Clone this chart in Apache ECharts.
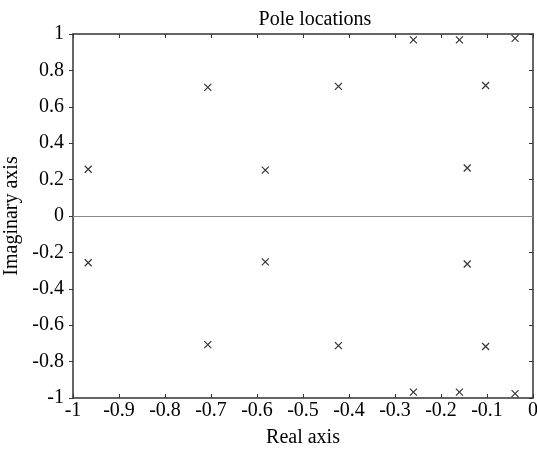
<!DOCTYPE html>
<html>
<head>
<meta charset="utf-8">
<script src="https://cdn.jsdelivr.net/npm/echarts@6/dist/echarts.min.js"></script>
<style>
  html, body { margin: 0; padding: 0; background: #fff; }
  #chart { width: 537px; height: 450px; }
</style>
</head>
<body>
<div id="chart"></div>
<script>
// pole positions (real, imag)
const realParts = [-0.967, -0.707, -0.582, -0.423, -0.26, -0.16, -0.039, -0.103, -0.143];
const imagParts = [0.257, 0.707, 0.252, 0.712, 0.968, 0.968, 0.976, 0.717, 0.264];
const xTicks = [-1, -0.9, -0.8, -0.7, -0.6, -0.5, -0.4, -0.3, -0.2, -0.1, 0];
const yTicks = [-1, -0.8, -0.6, -0.4, -0.2, 0, 0.2, 0.4, 0.6, 0.8, 1];

let poles = [];
realParts.forEach((re, i) => {
  poles.push([re, imagParts[i]]);
  poles.push([re, -imagParts[i]]);
});

const font = 'Liberation Serif';
const axisCol = '#333';
const fs = 20;

let MyEcharts = echarts.init(document.getElementById('chart'));

const fmt = v => (Math.round(v * 10) / 10).toString();

let option = {
  animation: false,
  title: {
    text: 'Pole locations',
    left: 310,
    textAlign: 'center',
    top: 5,
    textStyle: { fontFamily: font, fontSize: fs, fontWeight: 'normal', color: '#000' }
  },
  grid: { left: 73, right: 4, top: 34, bottom: 52, containLabel: false, outerBoundsMode: 'none' },
  xAxis: [{
    type: 'value',
    min: -1, max: 0, interval: 0.1,
    position: 'bottom',
    name: 'Real axis',
    nameLocation: 'middle',
    nameGap: 30,
    nameTextStyle: { fontFamily: font, fontSize: fs, color: '#000' },
    axisLine: { show: true, onZero: false, lineStyle: { color: axisCol, width: 1.5 } },
    axisTick: { show: true, inside: true, length: 4, lineStyle: { color: axisCol } },
    axisLabel: { fontFamily: font, fontSize: fs, color: '#000', margin: 3, formatter: fmt },
    splitLine: { show: false }
  }, {
    type: 'value',
    min: -1, max: 0, interval: 0.1,
    position: 'top',
    axisLine: { show: true, onZero: false, lineStyle: { color: axisCol, width: 1.5 } },
    axisTick: { show: true, inside: true, length: 4, lineStyle: { color: axisCol } },
    axisLabel: { show: false },
    splitLine: { show: false }
  }],
  yAxis: [{
    type: 'value',
    min: -1, max: 1, interval: 0.2,
    position: 'left',
    name: 'Imaginary axis',
    nameLocation: 'middle',
    nameGap: 46,
    nameTextStyle: { fontFamily: font, fontSize: fs, color: '#000' },
    axisLine: { show: true, onZero: false, lineStyle: { color: axisCol, width: 1.5 } },
    axisTick: { show: true, inside: false, length: 4, lineStyle: { color: axisCol } },
    axisLabel: { fontFamily: font, fontSize: fs, color: '#000', margin: 9, formatter: fmt },
    splitLine: { show: false }
  }, {
    type: 'value',
    min: -1, max: 1, interval: 0.2,
    position: 'right',
    axisLine: { show: true, onZero: false, lineStyle: { color: axisCol, width: 1.5 } },
    axisTick: { show: true, inside: true, length: 4, lineStyle: { color: axisCol } },
    axisLabel: { show: false },
    splitLine: { show: false }
  }],
  series: [{
    type: 'scatter',
    xAxisIndex: 0,
    yAxisIndex: 0,
    data: poles,
    symbol: 'path://M0,0L10,10M10,0L0,10',
    symbolSize: 7,
    itemStyle: { color: 'rgba(0,0,0,0)', borderColor: '#000', borderWidth: 1.2 },
    markLine: {
      silent: true,
      symbol: 'none',
      label: { show: false },
      lineStyle: { color: '#888', width: 1, type: 'solid' },
      data: [{ yAxis: 0 }]
    }
  }]
};

MyEcharts.setOption(option);
</script>
</body>
</html>
